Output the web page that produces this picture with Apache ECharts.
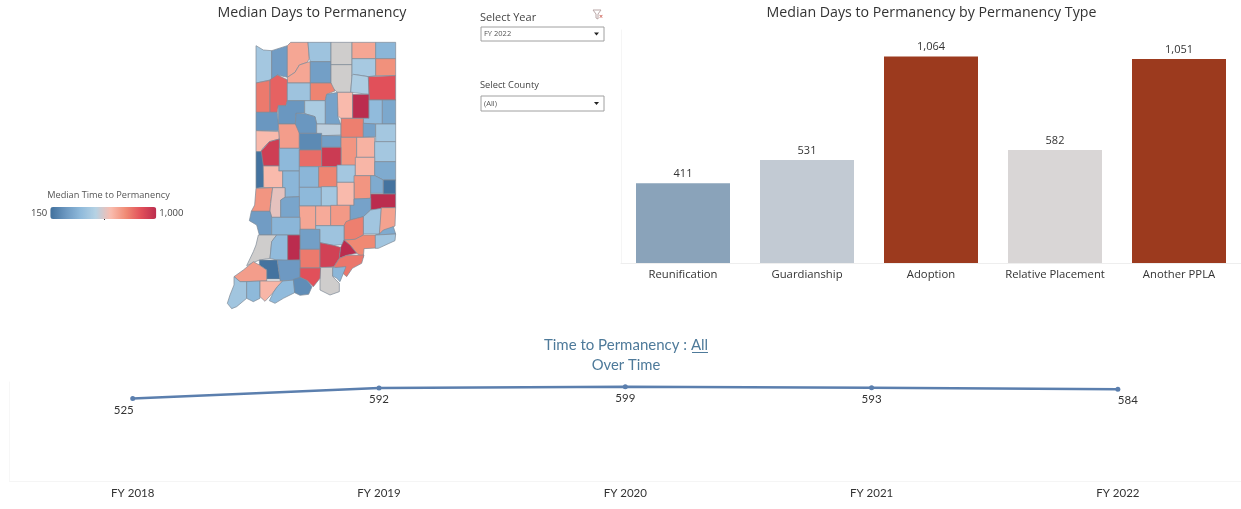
<!DOCTYPE html>
<html><head><meta charset="utf-8">
<script src="https://cdn.jsdelivr.net/npm/echarts@6/dist/echarts.min.js"></script>
<style>html,body{margin:0;padding:0;background:#fff}#c{width:1241px;height:509px}</style>
</head><body><div id="c"></div>
<script>
// ---- data ----
const permTypes = ['Reunification','Guardianship','Adoption','Relative Placement','Another PPLA'];
const permDays = [411,531,1064,582,1051];
const permColors = ['#8aa3ba','#c2cad3','#9c3a1e','#d9d6d6','#9c3a1e'];
const years = ['FY 2018','FY 2019','FY 2020','FY 2021','FY 2022'];
const yearDays = [525,592,599,593,584];
const labelShift = [-9,0,0,0,10];
const countyNames = ['Lake','Porter','LaPorte','Starke','St. Joseph','Marshall','Elkhart','Kosciusko','LaGrange','Steuben','Noble','DeKalb','Whitley','Allen','Newton','Jasper','Pulaski','Fulton','White','Cass','Miami','Wabash','Huntington','Wells','Adams','Benton','Warren','Tippecanoe','Carroll','Howard','Grant','Blackford','Jay','Clinton','Tipton','Madison','Delaware','Randolph','Fountain','Montgomery','Boone','Hamilton',
 'Vermillion','Parke','Putnam','Hendricks','Marion','Hancock','Henry','Wayne','Rush','Fayette','Union','Shelby','Vigo','Clay','Morgan','Johnson','Decatur','Franklin','Sullivan','Owen','Monroe','Brown','Bartholomew','Jennings','Ripley','Dearborn','Ohio','Switzerland','Knox','Greene','Lawrence','Jackson','Jefferson','Scott','Daviess','Martin','Orange','Gibson','Dubois','Washington','Floyd','Clark','Crawford','Pike','Harrison','Posey','Vanderburgh','Warrick','Spencer','Perry'];
const countyValues = [460,290,690,690,440,300,null,null,690,380,470,740,490,880,790,840,440,770,270,480,310,640,1000,400,330,270,640,710,270,530,780,310,460,230,300,730,660,460,940,390,820,950,
 160,640,380,380,770,460,650,340,730,340,160,640,730,600,390,460,320,1000,310,450,700,290,690,680,720,380,780,300,440,340,760,450,null,400,1000,790,930,1000,800,160,280,null,380,710,880,450,390,650,400,240];
// county outlines: [crop, x,y,x,y,...]
const countyOutlines = [
[1,108,32,130,45,155,47,155,134,108,144],
[1,155,47,202,32,202,127,172,120,155,134],
[1,202,32,212,22,264,22,268,70,262,82,238,90,225,112,202,127],
[1,202,127,225,112,238,90,262,82,271,80,271,144,202,144],
[1,264,22,333,22,333,80,271,80,268,70],
[1,271,80,333,80,333,144,271,144],
[1,333,22,396,22,396,89,333,89],
[1,333,89,396,89,396,122,392,172,352,172,333,155],
[1,396,22,467,22,467,71,396,71],
[1,467,22,527,22,527,71,467,71],
[1,396,71,467,71,467,122,445,125,400,118,396,122],
[1,467,71,527,71,527,122,467,122],
[1,396,122,400,118,445,125,447,178,392,172],
[1,445,125,527,122,527,195,447,195,447,178],
[1,108,144,150,136,150,232,108,232],
[1,150,134,172,120,202,134,202,197,198,212,175,212,172,232,150,232],
[1,202,144,271,144,271,197,202,197],
[1,271,144,333,144,345,168,320,178,316,197,271,197],
[1,175,212,198,212,202,197,254,197,254,234,228,235,226,267,175,267],
[1,254,197,316,197,316,267,290,267,285,245,254,236],
[1,320,178,354,172,354,245,362,268,316,268,316,197],
[1,352,172,398,172,398,250,362,250,354,242],
[1,398,178,447,178,447,250,398,250],
[1,447,195,487,195,487,267,430,265,430,250,447,250],
[1,487,195,527,195,527,267,487,267],
[1,108,232,172,232,175,267,175,287,108,287],
[1,108,287,178,290,178,312,148,320,130,338,122,350,108,350],
[1,175,267,238,267,238,340,178,340,178,312],
[1,228,235,254,236,285,245,290,267,290,295,238,295,226,267],
[1,290,267,363,268,363,300,305,302,290,295],
[1,363,250,430,250,430,307,363,307],
[1,430,265,467,267,467,305,430,307],
[1,467,267,527,267,527,320,467,320],
[1,238,295,305,295,305,345,238,345],
[1,305,302,363,302,363,337,305,337],
[1,363,307,410,307,410,392,363,392,363,337],
[1,410,307,464,307,464,367,410,367],
[1,464,320,527,320,527,380,464,380],
[1,122,350,148,320,178,312,178,393,124,393],
[1,178,340,238,340,238,408,178,408],
[1,238,345,305,345,305,395,238,395],
[1,305,337,363,337,363,395,305,395],
[2,108,-55,124,-55,130,-12,131,52,108,55],
[2,130,-12,176,-12,176,3,188,3,188,53,131,53],
[2,188,3,238,3,238,80,195,82,195,53,188,53],
[2,238,-10,296,-10,296,52,238,52],
[2,296,-10,351,-10,351,50,296,52],
[2,351,-15,406,-15,406,37,351,37],
[2,406,-38,464,-38,464,17,406,17],
[2,464,-25,527,-25,527,30,490,30,464,17],
[2,402,17,452,17,452,85,402,87],
[2,452,17,464,17,490,30,490,70,452,70],
[2,490,30,527,30,527,72,490,72],
[2,351,37,402,37,402,106,351,106],
[2,108,55,158,53,152,100,150,124,94,124,104,105],
[2,158,53,195,53,195,82,182,90,182,142,155,142,150,124,152,100],
[2,238,52,304,52,304,108,238,108],
[2,304,50,351,50,351,108,304,108],
[2,195,82,238,80,238,108,240,142,182,142,182,90],
[2,452,72,527,72,527,113,452,120],
[2,402,87,452,85,452,120,432,140,390,150,390,106,402,106],
[2,452,120,484,115,480,192,430,192,430,140],
[2,484,113,527,113,525,168,478,192],
[2,94,124,150,124,155,142,155,195,118,195,110,165,88,152],
[2,238,108,287,108,287,178,240,178],
[2,287,108,332,108,332,167,287,167],
[2,332,106,390,106,390,150,372,167,332,167],
[2,155,142,240,142,240,195,155,195],
[2,378,155,390,150,430,140,430,195,405,208,372,210,372,167],
[2,240,178,300,178,300,238,240,238],
[2,287,167,372,167,372,224,340,226,300,218,300,178,287,178],
[2,490,180,520,170,527,192,466,195,478,192],
[2,405,208,430,195,466,195,467,234,432,236,430,262,410,250,390,225,372,210],
[2,466,195,527,192,525,212,475,235,466,235],
[2,115,195,170,195,155,215,150,265,118,270,80,287,100,245,108,225],
[2,170,195,203,195,203,272,170,270,150,265,155,215],
[2,203,195,240,195,240,270,203,272],
[2,240,238,300,238,300,294,240,294],
[2,300,218,340,226,362,232,358,265,342,290,300,294],
[2,372,210,390,225,410,250,380,256,358,265,362,232],
[2,342,290,358,265,380,256,432,255,425,280,397,295,380,320,360,302,345,292],
[2,118,270,172,270,180,327,140,327,140,300,118,285],
[2,172,270,240,270,240,322,220,332,180,332,180,327],
[2,300,292,340,292,338,320,358,340,358,365,330,375,300,360],
[2,338,293,378,290,360,335,350,325,338,318],
[2,42,320,70,300,100,275,118,285,140,300,140,333,60,335],
[2,240,294,302,294,300,325,280,350,262,332,240,322],
[2,42,320,60,335,80,335,80,385,50,410,35,416,22,400,30,375,42,345],
[2,80,335,120,333,120,385,100,395,80,385],
[2,120,333,188,333,172,350,160,367,135,394,120,380],
[2,188,333,222,330,224,368,190,385,165,400,148,392,160,367,172,350],
[2,220,328,240,322,262,332,276,350,266,373,240,376,224,368]
];
// ---- map geometry ----
const cropOrigin = {1:[220,35],2:[220,170]};
const features = countyOutlines.map((o,i)=>{
  const [ox,oy]=cropOrigin[o[0]], ring=[];
  for(let k=1;k<o.length;k+=2) ring.push([ox+o[k]/3, -(oy+o[k+1]/3)]);
  ring.push(ring[0]);
  return {type:'Feature',properties:{name:countyNames[i]},geometry:{type:'Polygon',coordinates:[ring]}};
});
echarts.registerMap('indiana',{type:'FeatureCollection',features});
let xs=[],ys=[];features.forEach(f=>f.geometry.coordinates[0].forEach(p=>{xs.push(p[0]);ys.push(-p[1])}));
const mapBox={left:Math.min(...xs),top:Math.min(...ys),width:Math.max(...xs)-Math.min(...xs),height:Math.max(...ys)-Math.min(...ys)};

const mainFont='"Open Sans"', lineFont='Lato';
const chart=echarts.init(document.getElementById('c'));
const t=(text,x,y,size,color)=>({type:'text',style:{text,x,y,fontSize:size,fontFamily:mainFont,fill:color||'#444',textVerticalAlign:'middle'}});
const dropdown=(y,h,label)=>[
 {type:'rect',shape:{x:481,y,width:123,height:h},style:{fill:'#fff',stroke:'#a0a0a0',lineWidth:1}},
 t(label,484,y+h/2,7.5,'#555'),
 {type:'polygon',shape:{points:[[594,y+h/2-1.5],[599,y+h/2-1.5],[596.5,y+h/2+1.5]]},style:{fill:'#222'}}
];
const titleFor=(text,left,top,size,font,color)=>({text,left,top,padding:0,textAlign:'center',textStyle:{fontFamily:font,fontSize:size,fontWeight:'normal',color}});
chart.setOption({
 animation:false,
 title:[
  titleFor('Median Days to Permanency',312,6,14.2,mainFont,'#333'),
  titleFor('Median Days to Permanency by Permanency Type',931.5,6,14.2,mainFont,'#333'),
  titleFor('Median Time to Permanency',108.5,191,9.2,mainFont,'#555'),
  titleFor('Time to Permanency : All',626,338,15,lineFont,'#4e7a9a'),
  titleFor('Over Time',626,358,14.8,lineFont,'#4e7a9a')
 ],
 grid:[
  {left:621,top:30,width:622,height:233},
  {left:9.6,top:382,width:1233.7,height:99}
 ],
 xAxis:[
  {type:'category',gridIndex:0,data:permTypes,axisTick:{show:false},axisLine:{lineStyle:{color:'#eeeeee'}},axisLabel:{margin:6,fontFamily:mainFont,fontSize:11.3,color:'#333',interval:0}},
  {type:'category',gridIndex:1,data:years,axisTick:{show:false},axisLine:{lineStyle:{color:'#f5f5f5'}},axisLabel:{margin:6,fontFamily:lineFont,fontSize:11.5,color:'#333',interval:0}}
 ],
 yAxis:[
  {type:'value',gridIndex:0,min:0,max:1200,show:true,axisLabel:{show:false},axisTick:{show:false},splitLine:{show:false},axisLine:{show:true,lineStyle:{color:'#f5f5f5'}}},
  {type:'value',gridIndex:1,min:0,max:630,show:true,axisLabel:{show:false},axisTick:{show:false},splitLine:{show:false},axisLine:{show:true,lineStyle:{color:'#f7f7f7'}}}
 ],
 visualMap:{
  type:'continuous',seriesIndex:2,min:150,max:1000,orient:'horizontal',left:16,top:192,itemWidth:12,itemHeight:106,
  text:['1,000','150'],textGap:3,calculable:false,hoverLink:false,
  textStyle:{fontFamily:mainFont,fontSize:9.5,color:'#444'},
  inRange:{color:['#40709c','#6b97c0','#8fbadb','#b5d2e4','#f9bcae','#f08a74','#e1505a','#bb2c4e']}
 },
 series:[
  {type:'bar',xAxisIndex:0,yAxisIndex:0,barWidth:94,silent:true,
   data:permDays.map((v,i)=>({value:v,itemStyle:{color:permColors[i]}})),
   label:{show:true,position:'top',distance:4,fontFamily:mainFont,fontSize:11,color:'#333',formatter:p=>p.value.toLocaleString('en-US')}},
  {type:'line',xAxisIndex:1,yAxisIndex:1,silent:true,symbol:'circle',symbolSize:5,
   data:yearDays.map((v,i)=>({value:v,label:{offset:[labelShift[i],-1]}})),
   lineStyle:{color:'#5b7fae',width:2.5},itemStyle:{color:'#5b7fae'},
   label:{show:true,position:'bottom',distance:4,fontFamily:lineFont,fontSize:11.5,color:'#333'}},
  {type:'map',map:'indiana',aspectScale:1,roam:false,silent:true,left:mapBox.left,top:mapBox.top,width:mapBox.width,height:mapBox.height,
   label:{show:false},
   itemStyle:{areaColor:'#cfcdcc',borderColor:'#7e8a96',borderWidth:0.7},
   data:features.map((f,i)=>({name:f.properties.name,value:countyValues[i]}))}
 ],
 graphic:[
  t('Select Year',480,17.5,11,'#444'),
  ...dropdown(27,14,'FY 2022'),
  t('Select County',480,85,9.3,'#444'),
  ...dropdown(96,15,'(All)'),
  {type:'polygon',shape:{points:[[593,10],[601,10],[598,14],[598,19],[596,18],[596,14]]},style:{fill:'none',stroke:'#b9a6a6',lineWidth:1}},
  t('×',599,17,7,'#c0392b'),
  {type:'line',shape:{x1:692,y1:352.5,x2:708,y2:352.5},style:{stroke:'#4e7a9a',lineWidth:1}},
  {type:'rect',shape:{x:104,y:218,width:1,height:2},style:{fill:'#333'}}
 ]
});
</script></body></html>
